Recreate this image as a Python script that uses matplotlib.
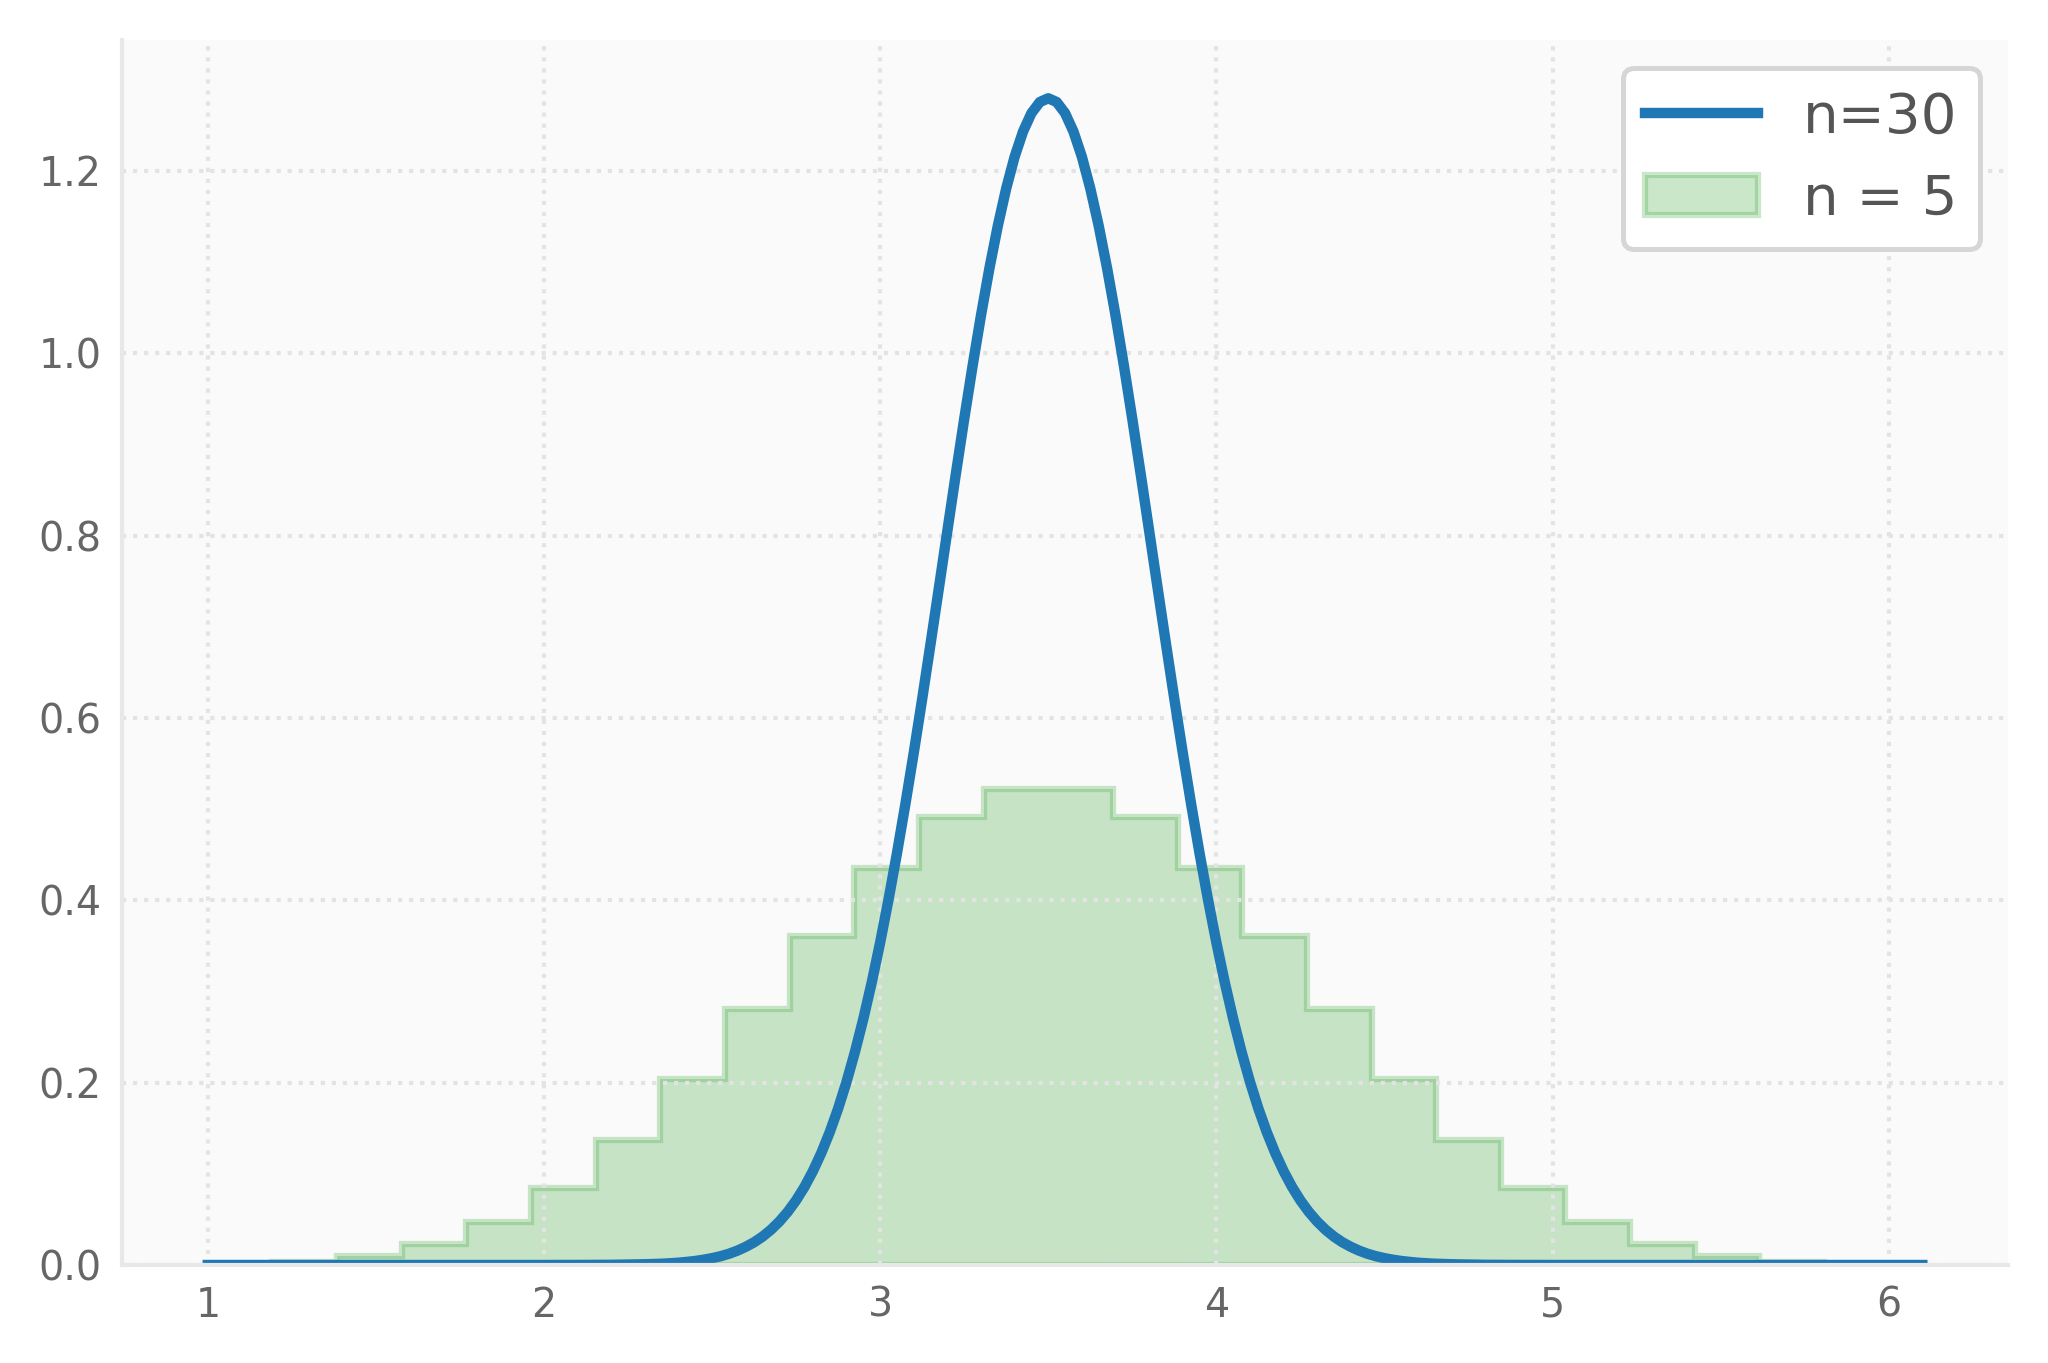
import numpy as np
import matplotlib
matplotlib.use("Agg")
import matplotlib.pyplot as plt

# ---- data ----
# histogram of the mean of n = 5 dice, 26 bins between 1 and 6 (density)
bin_lo, bin_hi, n_bins = 1.0, 6.0, 26
hist_density = [0.0007, 0.0033, 0.0100, 0.0234, 0.0468, 0.0843, 0.137, 0.204,
                0.281, 0.361, 0.435, 0.4915, 0.5216, 0.5216, 0.4915, 0.435,
                0.361, 0.281, 0.204, 0.137, 0.0843, 0.0468, 0.0234, 0.0100,
                0.0033, 0.0007]

# n = 30 curve, values read along x
tail_left_x = [1.0, 1.5, 2.0, 2.1, 2.2]
tail_left_y = [0.0, 0.0, 0.0, 0.00005, 0.0002]
core_x = list(np.round(np.linspace(2.3, 4.7, 97), 3))   # step 0.025
core_y_left = [0.0008, 0.0011, 0.0014, 0.0019, 0.0025, 0.0034, 0.0044, 0.0058,
               0.0075, 0.0096, 0.0123, 0.0157, 0.0199, 0.0249, 0.0311, 0.0386,
               0.0476, 0.0583, 0.0709, 0.0857, 0.1030, 0.1229, 0.1457, 0.1716,
               0.2009, 0.2337, 0.2700, 0.3100, 0.3537, 0.4010, 0.4516, 0.5054,
               0.5619, 0.6208, 0.6815, 0.7432, 0.8054, 0.8672, 0.9278, 0.9862,
               1.0416, 1.0931, 1.1397, 1.1807, 1.2154, 1.2430, 1.2632, 1.2754,
               1.2795]
core_y_right = [1.2754, 1.2632, 1.2430, 1.2154, 1.1807, 1.1397, 1.0931, 1.0416,
                0.9862, 0.9278, 0.8672, 0.8054, 0.7432, 0.6815, 0.6208, 0.5619,
                0.5054, 0.4516, 0.4010, 0.3537, 0.3100, 0.2700, 0.2337, 0.2009,
                0.1716, 0.1457, 0.1229, 0.1030, 0.0857, 0.0709, 0.0583, 0.0476,
                0.0386, 0.0311, 0.0249, 0.0199, 0.0157, 0.0123, 0.0096, 0.0075,
                0.0058, 0.0044, 0.0034, 0.0025, 0.0019, 0.0014, 0.0011, 0.0008]
tail_right_x = [4.8, 4.9, 5.0, 5.5, 6.1]
tail_right_y = [0.0002, 0.00005, 0.0, 0.0, 0.0]

x_ticks = [1, 2, 3, 4, 5, 6]
y_ticks = [0.0, 0.2, 0.4, 0.6, 0.8, 1.0, 1.2]
label_curve = "n=30"
label_hist = "n = 5"

curve_x = tail_left_x + core_x + tail_right_x
curve_y = tail_left_y + core_y_left + core_y_right + tail_right_y

# ---- figure ----
DPI = 300
fig = plt.figure(figsize=(2048 / DPI, 1363 / DPI), dpi=DPI, facecolor="white")
ax = fig.add_axes([0.0596, 0.0719, 0.9805 - 0.0596, 0.9707 - 0.0719])
ax.set_facecolor("#fafafa")

edges = np.linspace(bin_lo, bin_hi, n_bins + 1)
centers = (edges[:-1] + edges[1:]) / 2
ax.hist(centers, bins=edges, weights=hist_density, histtype="stepfilled",
        color="#2ca02c", edgecolor="#2ca02c", alpha=0.25, linewidth=1.5,
        label=label_hist)
ax.plot(curve_x, curve_y, color="#1f77b4", linewidth=2.5, label=label_curve,
        solid_joinstyle="round")

ax.set_xticks(x_ticks)
ax.set_yticks(y_ticks)
ax.set_yticklabels([f"{v:.1f}" for v in y_ticks])
ax.tick_params(axis="both", length=0, labelsize=9.5, colors="#666666", pad=5)
ax.set_ylim(0, 1.2795 * 1.05)
ax.margins(x=0.05)

for s in ["top", "right"]:
    ax.spines[s].set_visible(False)
for s in ["left", "bottom"]:
    ax.spines[s].set_color("#e8e8e8")
    ax.spines[s].set_linewidth(1.0)

ax.grid(True, linestyle=":", linewidth=1.0, color="#e3e3e3")

handles, labels = ax.get_legend_handles_labels()
order = [labels.index(label_curve), labels.index(label_hist)]
leg = ax.legend([handles[i] for i in order], [labels[i] for i in order],
                loc="upper right", fontsize=13.5, frameon=True, fancybox=True,
                labelcolor="#555555")
leg.get_frame().set_edgecolor("#d6d6d6")
leg.get_frame().set_linewidth(1.2)
leg.get_frame().set_facecolor("white")
leg.get_frame().set_alpha(1.0)

fig.savefig("out.png", dpi=DPI, facecolor="white")
